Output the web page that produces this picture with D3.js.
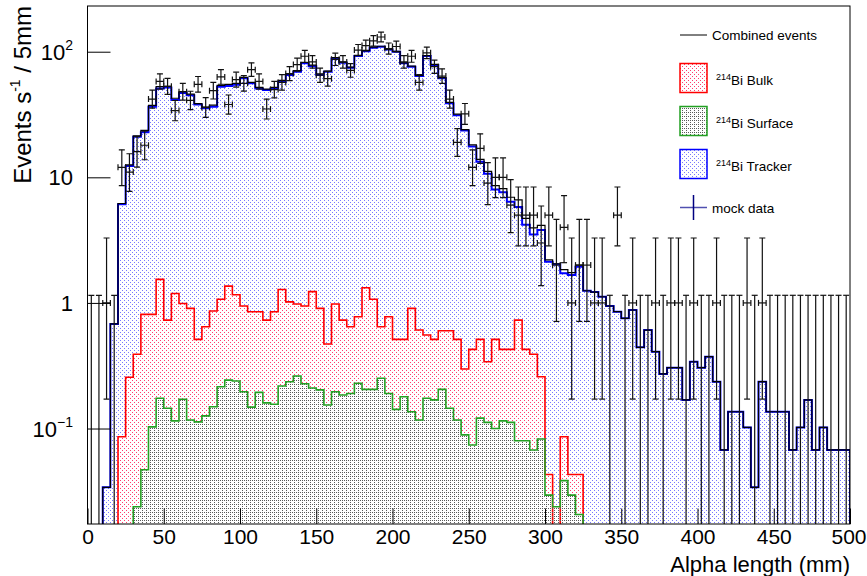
<!DOCTYPE html>
<html>
<head>
<meta charset="utf-8">
<script src="https://d3js.org/d3.v7.min.js"></script>
<style>
body { margin:0; background:#fff; }
text { font-family: "Liberation Sans", Arial, Helvetica, sans-serif; }
</style>
</head>
<body>
<svg id="chart" width="867" height="576"></svg>
<script>
// 5 mm bins, low edges in mm
var binLow = d3.range(0, 500, 5);

var tracker = [0, 0, 0.034, 0.68, 6.1, 12.3, 21, 22.8, 36.5, 51,
  52, 41.3, 47, 45, 38, 35.4, 36.5, 52.6, 53.4, 54.5,
  61.4, 56, 51, 49.5, 51, 57.7, 65.4, 69.4, 80.9, 76.7,
  65.4, 69.4, 88.5, 81.6, 74.5, 92.4, 101, 107.6, 109.6, 104,
  100, 80.9, 75.8, 64.2, 92.4, 78.5, 61.4, 38.8, 31.2, 23.6,
  17.6, 13.3, 10.7, 8.0, 7.6, 6.4, 5.8, 4.2, 3.5, 3.8,
  2.13, 2.03, 1.72, 1.67, 1.94, 1.25, 1.22, 1.12, 0.945, 0.851,
  0.754, 0.878, 0.443, 0.608, 0.409, 0.272, 0.305, 0.305, 0.169, 0.34,
  0.305, 0.373, 0.236, 0.0675, 0.136, 0.136, 0.102, 0.034, 0.236, 0.136,
  0.136, 0.136, 0.0675, 0.102, 0.169, 0.0675, 0.102, 0.0675, 0.0675, 0.0675];

var bulk = [0, 0, 0, 0, 0.086, 0.256, 0.39, 0.81, 0.81, 1.54,
  0.73, 1.19, 0.99, 0.905, 0.513, 0.646, 0.862, 1.07, 1.36, 1.16,
  0.945, 0.851, 0.851, 0.73, 0.851, 1.28, 1.02, 0.98, 0.945, 1.23,
  0.905, 0.471, 0.98, 0.73, 0.646, 0.776, 1.32, 1.07, 0.646, 0.776,
  0.513, 0.513, 0.905, 0.608, 0.555, 0.513, 0.6, 0.6, 0.513, 0.298,
  0.427, 0.513, 0.34, 0.513, 0.427, 0.427, 0.73, 0.427, 0.39, 0.258,
  0.043, 0, 0.086, 0.043, 0.043, 0, 0, 0, 0, 0,
  0, 0, 0, 0, 0, 0, 0, 0, 0, 0,
  0, 0, 0, 0, 0, 0, 0, 0, 0, 0,
  0, 0, 0, 0, 0, 0, 0, 0, 0, 0];

var surface = [0, 0, 0, 0, 0, 0, 0.0238, 0.047, 0.103, 0.174,
  0.145, 0.115, 0.171, 0.117, 0.113, 0.126, 0.149, 0.215, 0.243, 0.239,
  0.196, 0.148, 0.194, 0.16, 0.156, 0.218, 0.236, 0.262, 0.227, 0.21,
  0.203, 0.154, 0.196, 0.185, 0.19, 0.229, 0.205, 0.205, 0.251, 0.19,
  0.142, 0.179, 0.136, 0.117, 0.174, 0.169, 0.205, 0.145, 0.117, 0.089,
  0.074, 0.121, 0.112, 0.1, 0.115, 0.112, 0.08, 0.08, 0.0675, 0.0825,
  0.0295, 0.0238, 0.0385, 0.0295, 0.0207, 0, 0, 0, 0, 0,
  0, 0, 0, 0, 0, 0, 0, 0, 0, 0,
  0, 0, 0, 0, 0, 0, 0, 0, 0, 0,
  0, 0, 0, 0, 0, 0, 0, 0, 0, 0];

var combined = [0, 0, 0.034, 0.68, 6.19, 12.56, 21.4, 23.66, 37.4, 52.7,
  52.9, 42.6, 48.2, 46.0, 38.6, 36.2, 37.5, 53.9, 55.0, 55.9,
  62.5, 57.0, 52.0, 50.4, 52.0, 59.2, 66.7, 70.6, 82.1, 78.1,
  66.5, 70.0, 89.7, 82.5, 75.3, 93.4, 102.5, 108.9, 110.5, 105.0,
  100.7, 81.6, 76.8, 64.9, 93.1, 79.2, 62.2, 39.5, 31.8, 24.0,
  18.1, 13.9, 11.15, 8.6, 8.14, 6.94, 6.61, 4.71, 3.96, 4.14,
  2.2, 2.05, 1.84, 1.74, 2.0, 1.25, 1.22, 1.12, 0.945, 0.851,
  0.754, 0.878, 0.443, 0.608, 0.409, 0.272, 0.305, 0.305, 0.169, 0.34,
  0.305, 0.373, 0.236, 0.0675, 0.136, 0.136, 0.102, 0.034, 0.236, 0.136,
  0.136, 0.136, 0.0675, 0.102, 0.169, 0.0675, 0.102, 0.0675, 0.0675, 0.0675];

// mock data: counts per bin
var mockData = [0, 0, 1, 0, 12, 11, 16, 18, 42, 58,
  53, 34, 48, 41, 55, 36, 49, 63, 38, 60,
  56, 72, 58, 35, 50, 57, 67, 79, 92, 83,
  65, 61, 87, 83, 71, 103, 112, 122, 131, 106,
  110, 83, 92, 57, 98, 76, 64, 42, 19, 32,
  12, 17, 9, 10, 10, 6, 5, 5, 5, 3,
  5, 2, 4, 1, 2, 2, 1, 1, 0, 5,
  0, 1, 0, 0, 1, 0, 1, 1, 0, 1,
  0, 0, 1, 0, 0, 0, 1, 0, 1, 0,
  0, 0, 0, 0, 0, 0, 0, 0, 0, 0];

var xTicks = [0, 50, 100, 150, 200, 250, 300, 350, 400, 450, 500];
var yTicks = [0.1, 1, 10, 100];
var yTickBase = ["10", "1", "10", "10"];
var yTickExp = ["\u22121", "", "", "2"];

var svg = d3.select("#chart");
var L = 87.5, R = 850, T = 6, B = 524;

var x = d3.scaleLinear().domain([0, 500]).range([L, R]);
var y = d3.scaleLog().domain([0.01737, 231.2]).range([B, T]);

var defs = svg.append("defs");
defs.append("clipPath").attr("id", "clip")
  .append("rect").attr("x", L).attr("y", T).attr("width", R - L).attr("height", B - T);

function pattern(id, color, pts) {
  var p = defs.append("pattern").attr("id", id)
    .attr("width", 4).attr("height", 4).attr("patternUnits", "userSpaceOnUse");
  pts.forEach(function(q) {
    p.append("rect").attr("x", q[0]).attr("y", q[1]).attr("width", 1).attr("height", 1).attr("fill", color);
  });
}
pattern("patBlue", "#7878ff", [[0, 0], [2, 2]]);
pattern("patRed", "#ff3c6e", [[0, 0], [2, 2]]);
pattern("patGreen", "#5a5a5a", [[0, 0], [2, 2], [2, 0]]);

// step outline of a histogram, zero bins dropped below the frame
function steps(vals) {
  var low = B + 6;
  var pts = [[x(0), low]];
  vals.forEach(function(v, i) {
    var yy = v > 0 ? y(v) : low;
    pts.push([x(binLow[i]), yy]);
    pts.push([x(binLow[i] + 5), yy]);
  });
  pts.push([x(500), low]);
  return pts;
}

var plot = svg.append("g").attr("clip-path", "url(#clip)");

function drawHist(vals, fill, stroke, w) {
  var pts = steps(vals);
  plot.append("path").attr("d", d3.line()(pts) + "Z").attr("fill", "url(#" + fill + ")").attr("stroke", "none");
  plot.append("path").attr("d", d3.line()(pts)).attr("fill", "none")
    .attr("stroke", stroke).attr("stroke-width", w).attr("stroke-linejoin", "miter");
}
drawHist(tracker, "patBlue", "#0000ff", 2);
drawHist(bulk, "patRed", "#ff0000", 1.6);
drawHist(surface, "patGreen", "#22a022", 1.6);

plot.append("path").attr("d", d3.line()(steps(combined))).attr("fill", "none")
  .attr("stroke", "#000").attr("stroke-width", 1.2);

// Poisson (Garwood) intervals for the mock data counts
function poisLow(n) { return n * Math.pow(1 - 1 / (9 * n) - 1 / (3 * Math.sqrt(n)), 3); }
function poisUp(n) { var m = n + 1; return m * Math.pow(1 - 1 / (9 * m) + 1 / (3 * Math.sqrt(m)), 3); }

var dg = plot.append("g").attr("stroke", "#111").attr("stroke-width", 1.2);
mockData.forEach(function(n, i) {
  var cx = x(binLow[i] + 2.5), c = 3;
  if (n === 0) {
    var top = y(1.15);
    dg.append("line").attr("x1", cx).attr("x2", cx).attr("y1", B + 2).attr("y2", top);
    dg.append("line").attr("x1", cx - c).attr("x2", cx + c).attr("y1", top).attr("y2", top);
    return;
  }
  var yc = y(n), yh = y(poisUp(n)), yl = y(poisLow(n));
  var xa = x(binLow[i]), xb = x(binLow[i] + 5);
  dg.append("line").attr("x1", cx).attr("x2", cx).attr("y1", yh).attr("y2", yl);
  dg.append("line").attr("x1", cx - c).attr("x2", cx + c).attr("y1", yh).attr("y2", yh);
  dg.append("line").attr("x1", cx - c).attr("x2", cx + c).attr("y1", yl).attr("y2", yl);
  dg.append("line").attr("x1", xa).attr("x2", xb).attr("y1", yc).attr("y2", yc);
  dg.append("line").attr("x1", xa).attr("x2", xa).attr("y1", yc - c).attr("y2", yc + c);
  dg.append("line").attr("x1", xb).attr("x2", xb).attr("y1", yc - c).attr("y2", yc + c);
});

// axes
var xMinor = d3.range(0, 501, 10).filter(function(v) { return v % 50 !== 0; });
var gx = svg.append("g").attr("transform", "translate(0," + B + ")");
gx.call(d3.axisBottom(x).tickValues(xMinor).tickSize(-7.8).tickFormat(""));
gx.call(d3.axisBottom(x).tickValues(xTicks).tickSize(-15.5).tickPadding(5).tickFormat(d3.format("d")));
gx.selectAll(".domain").remove();
gx.selectAll("line").attr("stroke", "#000");
gx.selectAll("text").attr("font-size", 21).attr("fill", "#000").attr("dy", "0.72em")
  .attr("font-family", "'Liberation Sans', Arial, sans-serif");
gx.selectAll(".tick:last-of-type text").attr("dx", -1.5);

var yMinor = [];
[0.01, 0.1, 1, 10, 100].forEach(function(d) {
  d3.range(2, 10).forEach(function(k) {
    var v = d * k;
    if (v > y.domain()[0] && v < y.domain()[1]) yMinor.push(v);
  });
});
var gy = svg.append("g").attr("transform", "translate(" + L + ",0)");
gy.call(d3.axisLeft(y).tickValues(yMinor).tickSize(-11.5).tickFormat(""));
gy.call(d3.axisLeft(y).tickValues(yTicks).tickSize(-23).tickFormat(""));
gy.selectAll(".domain").remove();
gy.selectAll("line").attr("stroke", "#000");

yTicks.forEach(function(v, i) {
  var t = svg.append("text").attr("x", 73).attr("y", y(v) + 8)
    .attr("text-anchor", "end").attr("font-size", 22).text(yTickBase[i]);
  if (yTickExp[i]) {
    t.append("tspan").attr("font-size", 14).attr("dy", -10).text(yTickExp[i]);
  }
});

// frame
svg.append("rect").attr("x", L).attr("y", T).attr("width", R - L).attr("height", B - T)
  .attr("fill", "none").attr("stroke", "#000").attr("stroke-width", 1);

// titles
svg.append("text").attr("x", R).attr("y", 572).attr("text-anchor", "end")
  .attr("font-size", 22).text("Alpha length (mm)");
var yt = svg.append("text").attr("transform", "translate(31," + T + ") rotate(-90)")
  .attr("text-anchor", "end").attr("font-size", 24);
yt.append("tspan").text("Events s");
yt.append("tspan").attr("font-size", 14).attr("dy", -11).text("-1");
yt.append("tspan").attr("dy", 11).text(" / 5mm");

// legend
var legend = svg.append("g").attr("font-size", 13.5);
legend.append("line").attr("x1", 680).attr("x2", 707).attr("y1", 35).attr("y2", 35).attr("stroke", "#000");
legend.append("text").attr("x", 712).attr("y", 40).text("Combined events");

var boxes = [
  { y: 63.5, fill: "patRed", stroke: "#ff0000", label: "Bi Bulk" },
  { y: 106.5, fill: "patGreen", stroke: "#22a022", label: "Bi Surface" },
  { y: 149.5, fill: "patBlue", stroke: "#0000ff", label: "Bi Tracker" }
];
boxes.forEach(function(b) {
  legend.append("rect").attr("x", 680).attr("y", b.y).attr("width", 27).attr("height", 29)
    .attr("fill", "url(#" + b.fill + ")").attr("stroke", b.stroke).attr("stroke-width", 1.5);
  var t = legend.append("text").attr("x", 716).attr("y", b.y + 21.5);
  t.append("tspan").attr("font-size", 9).attr("dy", -5).text("214");
  t.append("tspan").attr("dy", 5).text(b.label);
});

legend.append("line").attr("x1", 680).attr("x2", 707).attr("y1", 207.5).attr("y2", 207.5)
  .attr("stroke", "#5050b0").attr("stroke-width", 1.5);
legend.append("line").attr("x1", 693.5).attr("x2", 693.5).attr("y1", 195).attr("y2", 220)
  .attr("stroke", "#000080").attr("stroke-width", 1.5);
legend.append("text").attr("x", 712).attr("y", 212.5).text("mock data");
</script>
</body>
</html>
